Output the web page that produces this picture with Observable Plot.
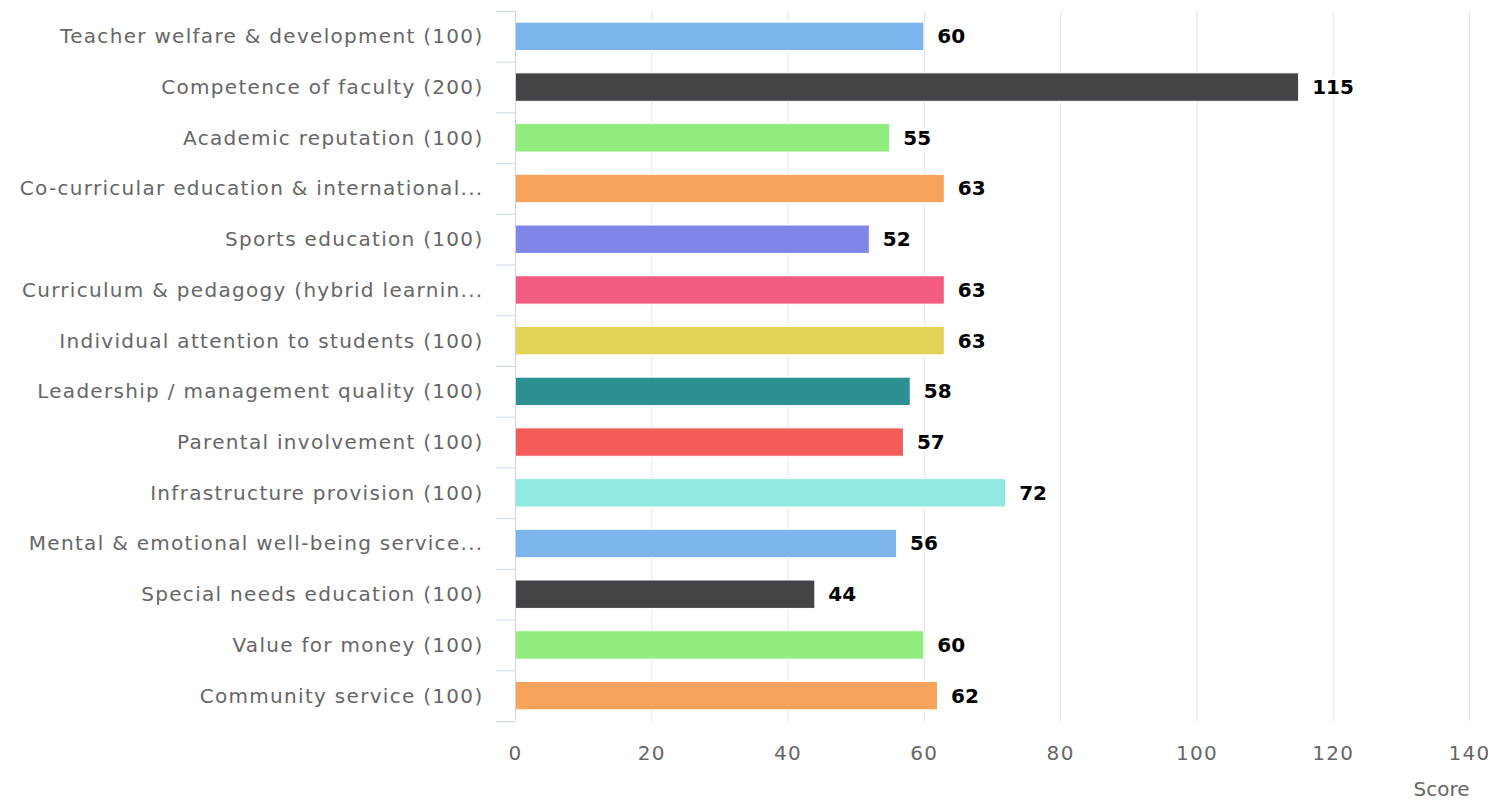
<!DOCTYPE html>
<html>
<head>
<meta charset="utf-8">
<script src="https://cdn.jsdelivr.net/npm/d3@7"></script>
<script src="https://cdn.jsdelivr.net/npm/@observablehq/plot@0.6"></script>
<style>
  html, body { margin: 0; padding: 0; background: #fff; }
  #chart svg { display: block; }
  #chart g[aria-label="y-axis tick label"] text,
  #chart g[aria-label="x-axis tick label"] text,
  #chart g[aria-label="axis title"] text { letter-spacing: 1.3px; }
</style>
</head>
<body>
<div id="chart"></div>
<script>
const categories = [
  "Teacher welfare & development (100)",
  "Competence of faculty (200)",
  "Academic reputation (100)",
  "Co-curricular education & international...",
  "Sports education (100)",
  "Curriculum & pedagogy (hybrid learnin...",
  "Individual attention to students (100)",
  "Leadership / management quality (100)",
  "Parental involvement (100)",
  "Infrastructure provision (100)",
  "Mental & emotional well-being service...",
  "Special needs education (100)",
  "Value for money (100)",
  "Community service (100)"
];
const scores = [60, 115, 55, 63, 52, 63, 63, 58, 57, 72, 56, 44, 60, 62];
const palette = ["#7cb5ec", "#434348", "#90ed7d", "#f7a35c", "#8085e9", "#f15c80", "#e4d354", "#2b908f", "#f45b5b", "#91e8e1"];
const xTicks = [0, 20, 40, 60, 80, 100, 120, 140];
const axisTitle = ["Score"];

const data = categories.map((name, i) => ({name, value: scores[i], color: palette[i % palette.length]}));

const width = 1488, height = 809;
const marginTop = 11, marginBottom = 88, marginLeft = 515, marginRight = 19;
const step = (height - marginTop - marginBottom) / categories.length;
const font = "'DejaVu Sans', Verdana, sans-serif";

const chart = Plot.plot({
  width, height, marginTop, marginBottom, marginLeft, marginRight,
  style: {fontFamily: font, fontSize: "20px", color: "#666", background: "#fff", overflow: "visible"},
  x: {domain: [0, 140]},
  y: {domain: categories, paddingInner: 0.44, paddingOuter: 0.22, round: false},
  color: {type: "identity"},
  marks: [
    Plot.ruleX(xTicks.filter(t => t > 0), {stroke: "#e6e6e6", strokeWidth: 1}),
    Plot.barX(data, {x: "value", y: "name", fill: "color", stroke: "#fff", strokeWidth: 1}),
    Plot.ruleX([0], {stroke: "#ccd6eb", strokeWidth: 1}),
    Plot.ruleY(categories, {y: d => d, x1: 0, x2: 0, insetLeft: -19, dy: -step / 2, stroke: "#ccd6eb"}),
    Plot.ruleY(categories.slice(-1), {y: d => d, x1: 0, x2: 0, insetLeft: -19, dy: step / 2, stroke: "#ccd6eb"}),
    Plot.text(data, {
      x: "value", y: "name", text: d => String(d.value),
      dx: 13, textAnchor: "start", fontWeight: "bold", fontSize: 20,
      fill: "#000", stroke: "#fff", strokeWidth: 3, paintOrder: "stroke"
    }),
    Plot.axisY({tickSize: 0, tickPadding: 32, fontSize: 20, label: null, textOverflow: null}),
    Plot.axisX({ticks: xTicks, tickSize: 0, tickPadding: 24, fontSize: 20, label: null}),
    Plot.text(axisTitle, {frameAnchor: "bottom-right", textAnchor: "end", dy: 74, fontSize: 20, fill: "#666", ariaLabel: "axis title"})
  ]
});
document.getElementById("chart").appendChild(chart);
</script>
</body>
</html>
